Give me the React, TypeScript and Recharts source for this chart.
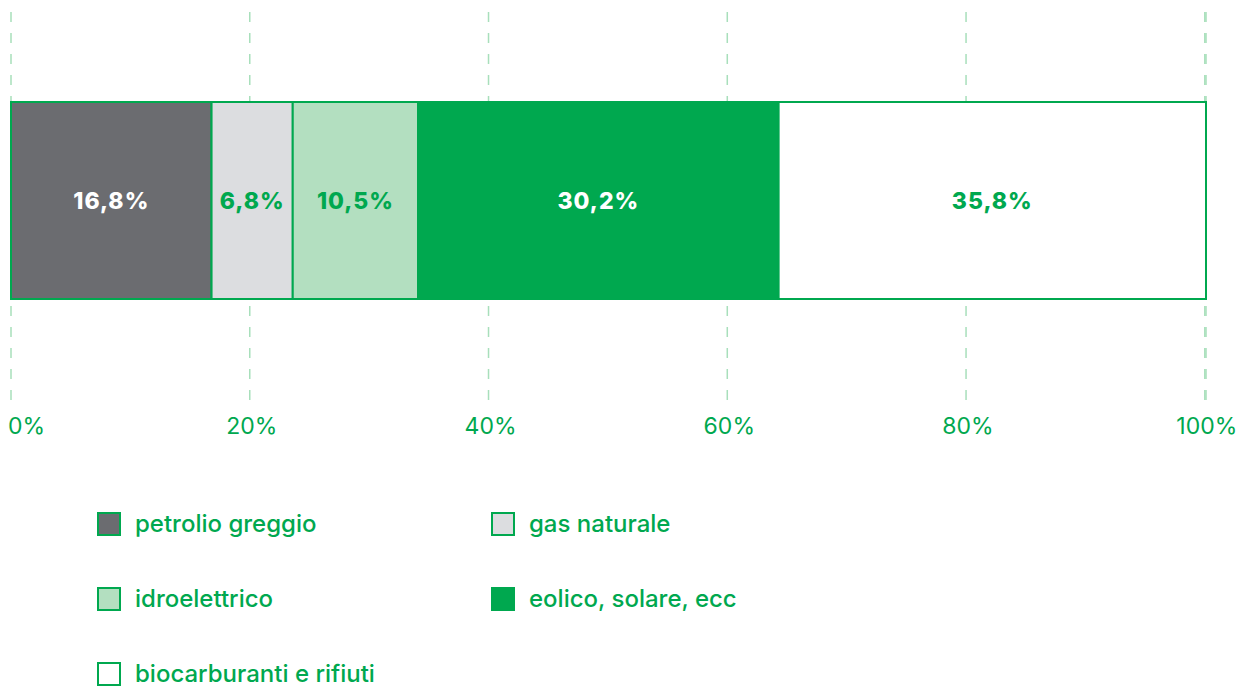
import React from 'react';
import { BarChart, Bar, XAxis, YAxis, CartesianGrid, LabelList } from 'recharts';

const GREEN = '#00a84f';

const SERIES_KEYS = ['petrolio', 'gas', 'idro', 'eolico', 'bio'];
const SERIES_NAMES = ['petrolio greggio', 'gas naturale', 'idroelettrico', 'eolico, solare, ecc', 'biocarburanti e rifiuti'];
const SERIES_VALUES = [16.8, 6.8, 10.5, 30.2, 35.8];
const SERIES_FILLS = ['#6b6c70', '#dcdde0', '#b3dfc0', GREEN, '#ffffff'];
const LABEL_FILLS = ['#ffffff', GREEN, GREEN, '#ffffff', GREEN];
const X_TICKS = [0, 20, 40, 60, 80, 100];

const row: Record<string, any> = { name: 'mix' };
SERIES_KEYS.forEach((k, i) => { row[k] = SERIES_VALUES[i]; });
const data = [row];

const fmt = (v: any) => `${String(v).replace('.', ',')}%`;

const AxisTick = (props: any) => {
  const { x, y, payload, index } = props;
  const first = index === 0;
  return (
    <text
      x={first ? x - 3 : x + 2}
      y={y}
      dy="0.71em"
      textAnchor={first ? 'start' : 'middle'}
      fill={GREEN}
      fontSize={23}
      fontFamily="Inter"
    >
      {payload.value}%
    </text>
  );
};

export default function App() {
  return (
    <div style={{ position: 'absolute', left: 0, top: 0, width: 1240, height: 688, background: '#fff', fontFamily: 'Inter' }}>
      <BarChart
        width={1240}
        height={460}
        data={data}
        layout="vertical"
        margin={{ top: 12, right: 34, left: 11, bottom: 0 }}
      >
        <CartesianGrid horizontal={false} stroke="#a8dfbb" strokeDasharray="10 11" strokeWidth={1.5} />
        <XAxis
          type="number"
          domain={[0, 100]}
          ticks={X_TICKS}
          axisLine={false}
          tickLine={false}
          tickMargin={5}
          height={53}
          interval={0}
          tick={<AxisTick />}
        />
        <YAxis type="category" dataKey="name" hide padding={{ top: 0, bottom: 19 }} />
        {SERIES_KEYS.map((k, i) => (
          <Bar
            key={k}
            dataKey={k}
            name={SERIES_NAMES[i]}
            stackId="a"
            fill={SERIES_FILLS[i]}
            stroke={GREEN}
            strokeWidth={2}
            barSize={197}
            isAnimationActive={false}
          >
            <LabelList
              dataKey={k}
              position="center"
              formatter={fmt}
              fill={LABEL_FILLS[i]}
              fontSize={23}
              fontWeight={800}
              fontFamily="Inter"
              letterSpacing={1}
            />
          </Bar>
        ))}
      </BarChart>

      {SERIES_NAMES.map((name, i) => {
        const col = i % 2;
        const r = Math.floor(i / 2);
        return (
          <div
            key={name}
            style={{
              position: 'absolute',
              left: col === 0 ? 97 : 491,
              top: 512 + r * 75,
              height: 24,
              display: 'flex',
              alignItems: 'center',
            }}
          >
            <div
              style={{
                width: 24,
                height: 24,
                boxSizing: 'border-box',
                border: `2px solid ${GREEN}`,
                background: SERIES_FILLS[i],
                marginRight: 14,
              }}
            />
            <span style={{ color: GREEN, fontSize: 24, fontWeight: 500, lineHeight: '24px' }}>{name}</span>
          </div>
        );
      })}
    </div>
  );
}
